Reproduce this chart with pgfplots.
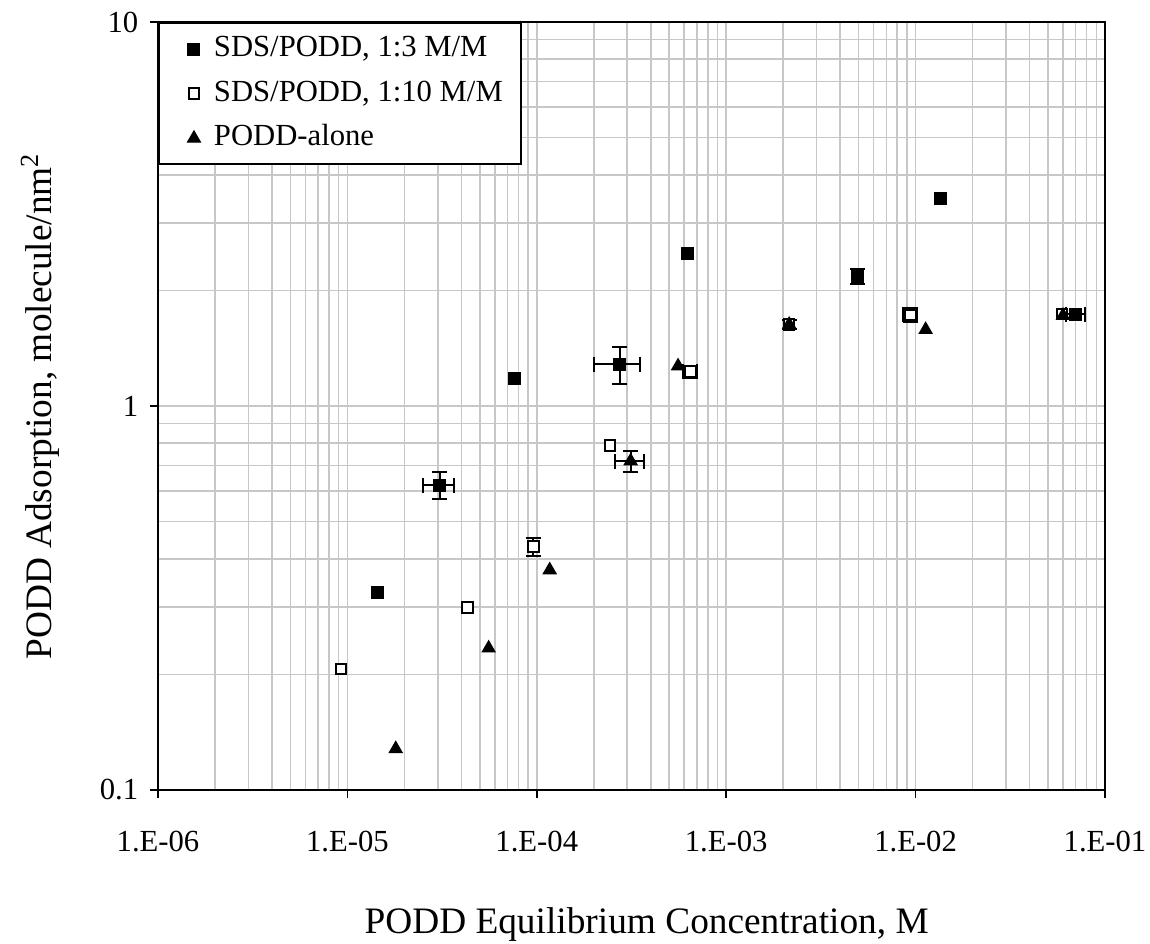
\documentclass[border=0pt]{standalone}
\usepackage{fontspec}
\setmainfont{Liberation Serif}
\usepackage{pgfplots}
\pgfplotsset{compat=1.18}
\begin{document}
\begin{tikzpicture}
\begin{axis}[
  at={(0,0)}, anchor=south west,
  scale only axis, width=284.1pt, height=230.4pt,
  xmode=log, ymode=log,
  xmin=1e-6, xmax=1e-1, ymin=0.1, ymax=10,
  xtick={1e-6,1e-5,1e-4,1e-3,1e-2,1e-1},
  xticklabels={1.E-06,1.E-05,1.E-04,1.E-03,1.E-02,1.E-01},
  ytick={0.1,1,10}, yticklabels={0.1,1,10},
  grid=both,
  major grid style={draw=black!22, line width=0.45pt},
  minor grid style={draw=black!22, line width=0.45pt},
  minor tick length=0pt,
  major tick length=2.4pt,
  tick align=outside,
  tick pos=left,
  axis line style={line width=0.6pt},
  major tick style={black, line width=0.5pt},
  ticklabel style={font=\fontsize{9.2pt}{11pt}\selectfont},
  xticklabel style={anchor=base, yshift=-16pt},
  yticklabel style={anchor=east},
  every axis x label/.style={at={(axis description cs:0.516,-0.1758)}, anchor=center, font=\fontsize{11.2pt}{13pt}\selectfont},
  every axis y label/.style={at={(axis description cs:-0.1246,0.5)}, rotate=90, anchor=center, font=\fontsize{11.2pt}{13pt}\selectfont},
  xlabel={PODD Equilibrium Concentration, M},
  ylabel={PODD Adsorption, molecule/nm\textsuperscript{2}},
  legend cell align=left,
  legend image code/.code={\path[draw=none] (-5.1pt,0pt) (6pt,0pt); \draw[#1] plot coordinates {(0pt,0pt)};},
  legend style={at={(0,1)}, anchor=north west, draw=black, line width=0.6pt,
    font=\fontsize{9.2pt}{11pt}\selectfont, inner xsep=5.4pt, inner ysep=1.1pt,
    row sep=0pt, column sep=0pt,
    nodes={inner ysep=1.9pt, inner xsep=0pt, text height=7pt, text depth=2.6pt}},
]
% error bars (drawn first, under the markers)
\addplot[forget plot, draw=none, mark=none,
  error bars/.cd, y dir=both, y explicit,
  error bar style={draw=black, solid, line width=0.6pt},
  error mark options={rotate=90, draw=black, mark size=2.25pt, line width=0.6pt}]
 coordinates {
 (3.08e-5,0.622) +- (0,0.05)
 (2.75e-4,1.284) +- (0,0.14)
 (4.92e-3,2.18) +- (0,0.1)
 (9.58e-5,0.43) +- (0,0.022)
 (6.49e-4,1.228) +- (0,0.045)
 (9.42e-3,1.726) +- (0,0.07)
 (3.13e-4,0.719) +- (0,0.045)
 (2.15e-3,1.63) +- (0,0.04)
 };
\addplot[forget plot, draw=none, mark=none,
  error bars/.cd, x dir=both, x explicit,
  error bar style={draw=black, solid, line width=0.6pt},
  error mark options={rotate=90, draw=black, mark size=2.25pt, line width=0.6pt}]
 coordinates {
 (3.08e-5,0.622) +- (0.57e-5,0)
 (2.75e-4,1.284) +- (0.75e-4,0)
 (7.0e-2,1.736) +- (0.8e-2,0)
 (6.49e-4,1.228) +- (0.55e-4,0)
 (9.42e-3,1.726) +- (0.8e-3,0)
 (3.13e-4,0.719) +- (0.55e-4,0)
 };
% SDS/PODD 1:3
\addplot[only marks, mark=square*, mark size=1.8pt, mark options={fill=black, draw=black, line width=0.3pt}]
 coordinates {
 (1.45e-5,0.326) (3.08e-5,0.622) (7.67e-5,1.18) (2.75e-4,1.284)
 (6.23e-4,2.50) (4.92e-3,2.18) (1.35e-2,3.47) (7.0e-2,1.736)
 };
\addlegendentry{SDS/PODD, 1:3 M/M}
% SDS/PODD 1:10
\addplot[only marks, mark=square*, mark size=1.6pt, mark options={fill=white, draw=black, line width=0.6pt}]
 coordinates {
 (9.25e-6,0.2065) (4.31e-5,0.299) (9.58e-5,0.43) (2.44e-4,0.788)
 (6.49e-4,1.228) (2.15e-3,1.63) (9.42e-3,1.726) (5.93e-2,1.736)
 };
\addlegendentry{SDS/PODD, 1:10 M/M}
% PODD alone
\addplot[only marks, mark=triangle*, mark size=2.25pt, mark options={fill=black, draw=black, line width=0.3pt}]
 coordinates {
 (1.80e-5,0.128) (5.57e-5,0.234) (1.17e-4,0.374) (3.13e-4,0.719)
 (5.57e-4,1.27) (2.15e-3,1.63) (1.13e-2,1.58) (6.0e-2,1.72)
 };
\addlegendentry{PODD-alone}
\end{axis}
\pgfresetboundingbox
\path (-47.4pt,-46.2pt) rectangle (297.6pt,237pt);
\end{tikzpicture}
\end{document}
